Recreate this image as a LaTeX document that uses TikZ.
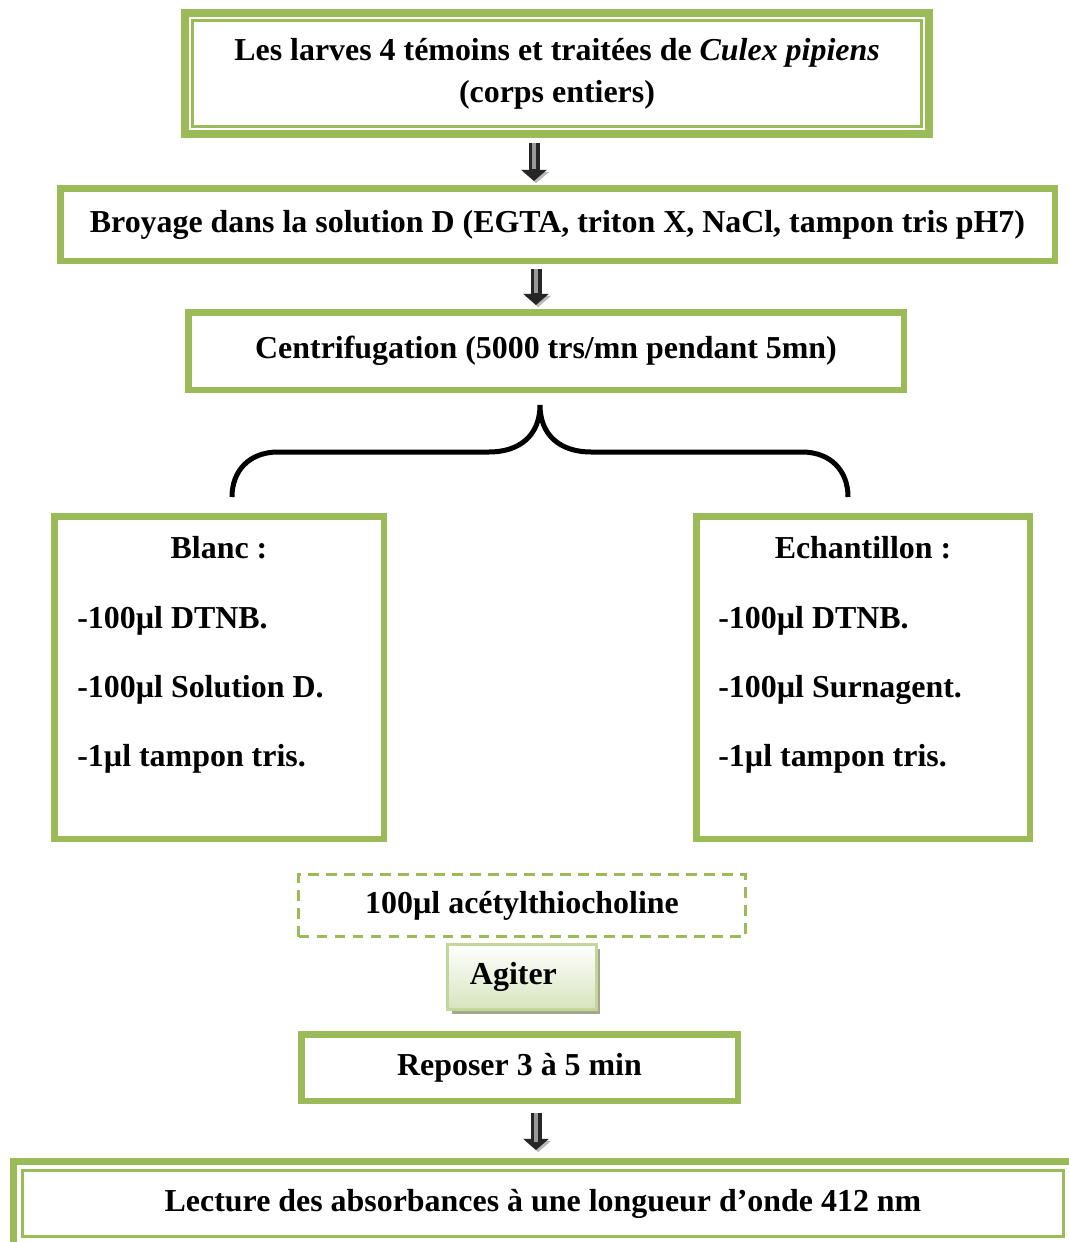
\documentclass[tikz,border=0pt]{standalone}
\usepackage{fontspec}
\setmainfont{Liberation Serif}
\usetikzlibrary{arrows.meta,shadows}
\definecolor{vert}{RGB}{155,187,89}
\definecolor{vertclair}{RGB}{215,228,189}
\definecolor{vertbord}{RGB}{195,214,155}
\definecolor{ombre}{RGB}{166,166,143}
\newcommand{\pix}{0.025cm}

\begin{document}
\begin{tikzpicture}[x=\pix,y=-\pix,
  font=\fontsize{22.7}{29.9}\selectfont\bfseries,
  boite/.style={draw=vert,line width=6.5*\pix,inner sep=0pt},
  cadre/.style={draw=vert,line width=8*\pix,inner sep=0pt,align=center},
  filet/.style={draw=vert,line width=3*\pix},
  pointille/.style={draw=vert,line width=3*\pix,dash pattern=on 7.8pt off 5pt,inner sep=0pt},
  fleche/.style={draw=black!85,line width=11*\pix,-{Triangle[width=18pt,length=8pt]},
    shorten <=5*\pix,shorten >=4*\pix,
    preaction={draw=gray!55,transform canvas={shift={(1.5pt,-1.5pt)}}},
    postaction={-,draw=black!40,line width=4*\pix,shorten >=16*\pix}},
  accolade/.style={line width=5*\pix},
  item/.style={anchor=base west,inner sep=0pt}]
\useasboundingbox (0,0) rectangle (1069,1242);

\node[cadre,minimum width=744*\pix,minimum height=121*\pix] (larves) at (557,73.5)
  {Les larves 4 témoins et traitées de \textit{Culex pipiens}\\(corps entiers)};
\draw[filet] ([shift={(11.5,11.5)}]larves.north west) rectangle ([shift={(-11.5,-11.5)}]larves.south east);

\node[boite,minimum width=994.5*\pix,minimum height=72.5*\pix] (broyage) at (557.5,224.5)
  {Broyage dans la solution D (EGTA, triton X, NaCl, tampon tris pH7)};
\node[boite,minimum width=715.5*\pix,minimum height=77.5*\pix] (centri) at (546,351)
  {Centrifugation (5000 trs/mn pendant 5mn)};

\coordinate (f1) at (534,0);
\coordinate (f2) at (536,0);
\draw[fleche] (larves.south -| f1) -- (broyage.north -| f1);
\draw[fleche] (broyage.south -| f2) -- (centri.north -| f2);

% accolade
\draw[accolade] (232,497) .. controls (232,470) and (250,452) .. (278,452) -- (489,452)
  .. controls (520,452) and (540,435) .. (540,405)
  .. controls (540,435) and (560,452) .. (591,452) -- (802,452)
  .. controls (830,452) and (848,470) .. (848,497);

% blanc
\node[boite,minimum width=329.5*\pix,minimum height=322.5*\pix] (blanc) at (219,677.5) {};
\node[anchor=base] (tblanc) at (219,558) {Blanc :};
\node[item] (b1) at (77,628) {-100µl DTNB.};
\node[item] (b2) at (77,697) {-100µl Solution D.};
\node[item] (b3) at (77,766) {-1µl tampon tris.};

% echantillon
\node[boite,minimum width=333.5*\pix,minimum height=322.5*\pix] (echant) at (863,677.5) {};
\node[anchor=base] (techant) at (863,558) {Echantillon :};
\node[item] (e1) at (718,628) {-100µl DTNB.};
\node[item] (e2) at (718,697) {-100µl Surnagent.};
\node[item] (e3) at (718,766) {-1µl tampon tris.};

\node[pointille,minimum width=447*\pix,minimum height=62*\pix] (acetyl) at (522,905.5)
  {100µl acétylthiocholine};
\node[draw=vertbord,line width=3*\pix,top color=white,bottom color=vertclair,
  drop shadow={shadow xshift=3pt,shadow yshift=-3.5pt,fill=ombre,opacity=1},
  text width=2.6cm,inner xsep=0.55cm,minimum height=65*\pix,align=left] (agiter) at (522,977) {Agiter};

\node[boite,minimum width=436.5*\pix,minimum height=66.5*\pix] (reposer) at (519.5,1067.5)
  {Reposer 3 à 5 min};

\node[cadre,line width=7*\pix,minimum width=1059*\pix,minimum height=84*\pix] (lecture) at (543,1203.5)
  {Lecture des absorbances à une longueur d’onde 412 nm};
\draw[filet] ([shift={(12.5,12.5)}]lecture.north west) rectangle ([shift={(-12.5,-12.5)}]lecture.south east);

\draw[fleche,shorten <=9*\pix,shorten >=8*\pix] (reposer.south -| f2) -- (lecture.north -| f2);
\end{tikzpicture}
\end{document}
